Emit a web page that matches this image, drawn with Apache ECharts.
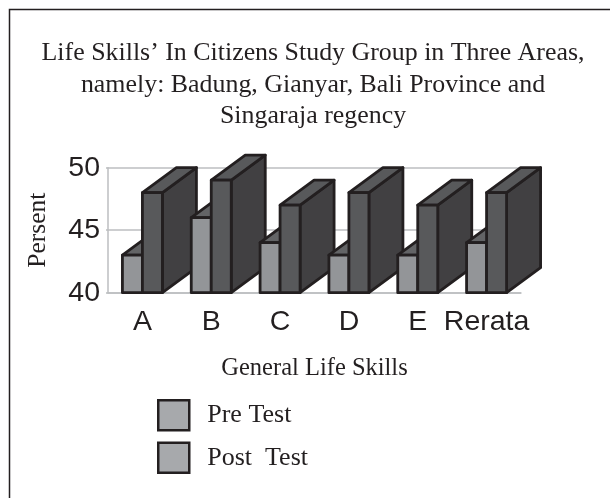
<!DOCTYPE html>
<html><head><meta charset="utf-8">
<style>html,body{margin:0;padding:0;background:#fff}#c{width:610px;height:498px}</style>
<script src="https://cdn.jsdelivr.net/npm/echarts@6/dist/echarts.min.js"></script>
</head><body><div id="c"></div>
<script>
const titleLines = ["Life Skills\u2019 In Citizens Study Group in Three Areas,", "namely: Badung, Gianyar, Bali Province and", "Singaraja regency"];
const categories = ["A", "B", "C", "D", "E", "Rerata"];
const preTest = [43, 46, 44, 43, 43, 44];
const postTest = [48, 49, 47, 48, 47, 48];
const yTicks = { min: 40, max: 50, interval: 5 };
const serif = '"Liberation Serif"';
const sans = '"Liberation Sans"';
const DX = 34, DY = -25, BW = 20, STROKE = '#231f20';

function bar3d(offset, frontColor, topColor, sideColor, order) {
  return function (params, api) {
    const x0 = api.coord([api.value(0), 40]);
    const top = api.coord([api.value(0), api.value(1)]);
    const l = x0[0] + offset, r = l + BW, b = x0[1], t = top[1];
    const style = c => ({ fill: c, stroke: STROKE, lineWidth: 2.8, lineJoin: 'round' });
    const z2 = params.dataIndex * 2 + order;
    return { type: 'group', children: [
      { type: 'polygon', z2, shape: { points: [[r, b], [r + DX, b + DY], [r + DX, t + DY], [r, t]] }, style: style(sideColor) },
      { type: 'polygon', z2, shape: { points: [[l, t], [r, t], [r + DX, t + DY], [l + DX, t + DY]] }, style: style(topColor) },
      { type: 'polygon', z2, shape: { points: [[l, b], [r, b], [r, t], [l, t]] }, style: style(frontColor) }
    ] };
  };
}

const chart = echarts.init(document.getElementById('c'), null, { renderer: 'canvas' });
chart.setOption({
  animation: false,
  backgroundColor: '#fff',
  title: {
    text: titleLines.join('\n'), left: 313, top: 37.5, textAlign: 'center', padding: 0,
    textStyle: { fontFamily: serif, fontSize: 25.9, fontWeight: 'normal', color: '#231f20', lineHeight: 31.5 }
  },
  graphic: [
    { type: 'polyline', silent: true, shape: { points: [[9.5, 498], [9.5, 9.5], [610, 9.5]] }, style: { stroke: '#231f20', lineWidth: 1.5, fill: 'none' } }
  ],
  grid: { left: 108, right: 89, top: 167.7, height: 125 },
  xAxis: {
    type: 'category', data: categories, name: 'General Life Skills', nameLocation: 'middle', nameGap: 63,
    nameTextStyle: { fontFamily: serif, fontSize: 24.5, color: '#231f20' },
    axisLine: { lineStyle: { color: '#bcbec0', width: 1.5 } }, axisTick: { show: false },
    axisLabel: { fontFamily: sans, fontSize: 28.5, color: '#231f20', margin: 15, interval: 0 }
  },
  yAxis: {
    type: 'value', min: yTicks.min, max: yTicks.max, interval: yTicks.interval,
    name: 'Persent', nameLocation: 'middle', nameGap: 57, nameRotate: 90,
    nameTextStyle: { fontFamily: serif, fontSize: 25.5, color: '#231f20' },
    axisLine: { show: true, lineStyle: { color: '#bcbec0', width: 1.5 } },
    axisTick: { show: true, length: 2, lineStyle: { color: '#bcbec0', width: 1.5 } },
    splitLine: { show: true, lineStyle: { color: '#bcbec0', width: 1.5 } },
    axisLabel: { fontFamily: sans, fontSize: 28.5, color: '#231f20', margin: 8 }
  },
  legend: {
    orient: 'vertical', left: 157, top: 399, padding: 0, itemWidth: 31, itemHeight: 30, itemGap: 10,
    icon: 'rect', selectedMode: false,
    textStyle: { fontFamily: serif, fontSize: 26, color: '#231f20', padding: [0, 0, 0, 13] },
    data: [
      { name: 'Pre Test', itemStyle: { color: '#a7a9ac', borderColor: STROKE, borderWidth: 2.5 } },
      { name: 'Post  Test', itemStyle: { color: '#a7a9ac', borderColor: STROKE, borderWidth: 2.5 } }
    ]
  },
  series: [
    { type: 'custom', name: 'Pre Test', coordinateSystem: 'cartesian2d', clip: false, encode: { x: 0, y: 1 },
      data: preTest.map((v, i) => [i, v]), renderItem: bar3d(-20, '#939598', '#636466', '#414042', 0) },
    { type: 'custom', name: 'Post  Test', coordinateSystem: 'cartesian2d', clip: false, encode: { x: 0, y: 1 },
      data: postTest.map((v, i) => [i, v]), renderItem: bar3d(0, '#58595b', '#58595b', '#414042', 1) }
  ]
});
</script></body></html>
